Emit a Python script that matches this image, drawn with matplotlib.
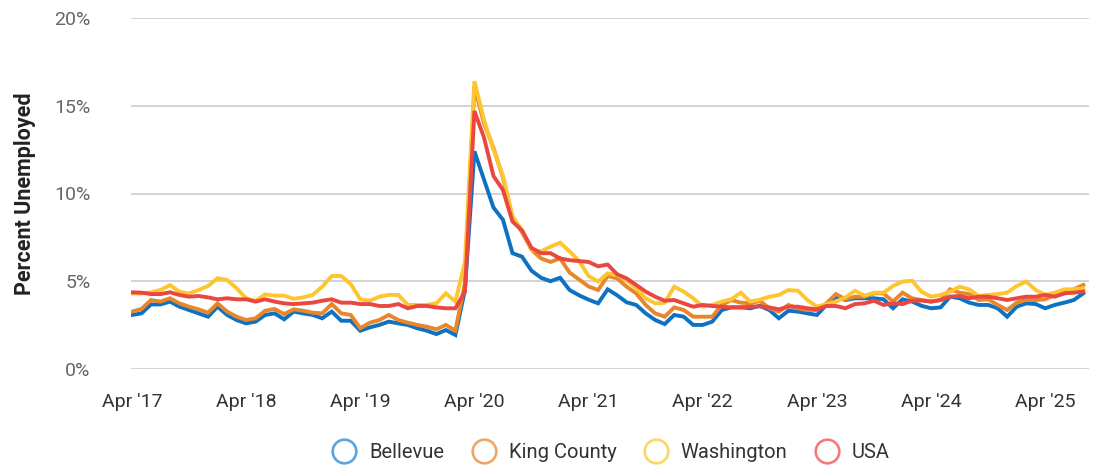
import matplotlib.pyplot as plt
from matplotlib.lines import Line2D

plt.rcParams['font.family'] = ['Roboto', 'DejaVu Sans']

# monthly unemployment rate, Apr 2017 .. Aug 2025
bellevue = [3.08, 3.17, 3.68, 3.68, 3.84, 3.55, 3.36, 3.17, 2.98, 3.55, 3.08, 2.79, 2.6, 2.7, 3.08, 3.17, 2.83,
            3.27, 3.17, 3.08, 2.89, 3.27, 2.75, 2.75, 2.18, 2.37, 2.51, 2.7, 2.6, 2.51, 2.32, 2.18, 1.99, 2.22, 1.94,
            4.5,
            12.4, 10.8, 9.2, 8.5, 6.6, 6.4, 5.6, 5.2, 5.0, 5.2, 4.5, 4.2, 3.95,
            3.74, 4.54, 4.2, 3.8, 3.65, 3.17, 2.79, 2.56, 3.08, 2.98, 2.51, 2.51, 2.7, 3.36, 3.51, 3.51, 3.46,
            3.6, 3.36, 2.89, 3.32, 3.27, 3.17, 3.08, 3.65, 4.12, 3.93, 4.03, 4.03, 4.03, 3.97, 3.46, 3.97, 3.84,
            3.6, 3.46, 3.51, 4.12, 4.03, 3.78, 3.65, 3.65, 3.46, 2.98, 3.55, 3.74, 3.7, 3.46, 3.65, 3.78, 3.93, 4.31]
king_county = [3.27, 3.42, 3.93, 3.84, 4.03, 3.74, 3.55, 3.4, 3.21, 3.74, 3.27, 2.98, 2.79, 2.89, 3.32, 3.42, 3.13,
               3.4, 3.32, 3.21, 3.17, 3.7, 3.17, 3.08, 2.32, 2.64, 2.79, 3.08, 2.79, 2.64, 2.51, 2.41, 2.26, 2.51, 2.18,
               4.9,
               16.1, 14.0, 12.6, 10.9, 8.6, 7.8, 6.8, 6.3, 6.1, 6.3, 5.5, 5.1, 4.7,
               4.5, 5.3, 5.16, 4.69, 4.31, 3.65, 3.17, 2.98, 3.51, 3.36, 2.98, 2.98, 2.98, 3.65, 3.93, 3.78, 3.74,
               3.88, 3.46, 3.27, 3.65, 3.46, 3.36, 3.36, 3.74, 4.27, 3.97, 4.12, 4.12, 4.31, 4.31, 3.84, 4.35, 4.03,
               3.93, 3.84, 3.93, 4.54, 4.35, 4.27, 3.93, 3.97, 3.65, 3.36, 3.78, 3.93, 3.93, 3.97, 4.22, 4.31, 4.54, 4.79]
washington = [4.31, 4.3, 4.37, 4.5, 4.78, 4.4, 4.3, 4.5, 4.73, 5.17, 5.07, 4.6, 4.03, 3.88, 4.25, 4.18, 4.18,
              4.0, 4.08, 4.22, 4.69, 5.3, 5.3, 4.84, 3.97, 3.89, 4.12, 4.22, 4.22, 3.65, 3.65, 3.65, 3.74, 4.31, 3.84,
              6.1,
              16.4, 14.2, 12.5, 11.0, 8.7, 7.9, 6.8, 6.7, 6.97, 7.2, 6.7, 6.16, 5.3,
              4.98, 5.45, 5.35, 5.07, 4.6, 4.03, 3.74, 3.78, 4.69, 4.41, 4.03, 3.55, 3.65, 3.84, 3.97, 4.35, 3.84,
              3.95, 4.12, 4.22, 4.5, 4.46, 3.93, 3.55, 3.7, 3.84, 4.08, 4.46, 4.18, 4.35, 4.35, 4.73, 4.98, 5.03,
              4.4, 4.12, 4.22, 4.41, 4.69, 4.54, 4.16, 4.22, 4.27, 4.35, 4.73, 4.98, 4.5, 4.22, 4.35, 4.54, 4.54, 4.6]
usa = [4.37, 4.35, 4.27, 4.27, 4.37, 4.22, 4.12, 4.16, 4.08, 3.97, 4.03, 3.97, 3.97, 3.84, 3.97, 3.84, 3.74,
       3.7, 3.74, 3.78, 3.89, 3.97, 3.78, 3.78, 3.7, 3.7, 3.59, 3.59, 3.7, 3.46, 3.59, 3.59, 3.51, 3.46, 3.46,
       4.4,
       14.7, 13.2, 11.0, 10.2, 8.4, 7.9, 6.9, 6.6, 6.6, 6.3, 6.2, 6.15, 6.1,
       5.85, 5.95, 5.4, 5.16, 4.79, 4.41, 4.12, 3.89, 3.93, 3.74, 3.55, 3.65, 3.59, 3.55, 3.51, 3.51, 3.55,
       3.57, 3.51, 3.4, 3.55, 3.55, 3.46, 3.4, 3.59, 3.59, 3.46, 3.7, 3.74, 3.89, 3.65, 3.74, 3.7, 3.89,
       3.9, 3.84, 3.93, 4.12, 4.16, 4.03, 4.12, 4.12, 4.03, 3.93, 4.03, 4.12, 4.12, 4.22, 4.12, 4.31, 4.35, 4.41]

series_names = ['Bellevue', 'King County', 'Washington', 'USA']
colors = ['#0f71c2', '#e8862b', '#fdc52f', '#ea4740']
legend_colors = ['#5aa5de', '#eea664', '#fdd665', '#ef7d77']
tick_labels = ["Apr '17", "Apr '18", "Apr '19", "Apr '20", "Apr '21", "Apr '22", "Apr '23", "Apr '24", "Apr '25"]
y_ticks = [0, 5, 10, 15, 20]

fig = plt.figure(figsize=(10.97, 4.70), dpi=100)
ax = fig.add_axes([131 / 1097, 1 - 369 / 470, 958 / 1097, 351 / 470])

months = list(range(len(bellevue)))
for vals, name, c in zip([bellevue, king_county, washington, usa], series_names, colors):
    ax.plot(months, vals, color=c, lw=2.8, solid_joinstyle='miter', label=name)

ax.set_xlim(-0.1, 100.6)
ax.set_ylim(0, 20)
ax.set_yticks(y_ticks)
ax.set_yticklabels([f'{t}%' for t in y_ticks], color='#666666', fontsize=14)
ax.set_xticks(range(0, 97, 12))
ax.set_xticklabels(tick_labels, color='#333333', fontsize=14)
ax.tick_params(length=0)
ax.tick_params(axis='y', pad=29)
ax.tick_params(axis='x', pad=17)
ax.grid(axis='y', color='#cccccc', lw=1.2)
ax.set_axisbelow(True)
for s in ax.spines.values():
    s.set_visible(False)

ax.set_ylabel('Percent Unemployed', fontsize=15.5, fontweight='bold', color='#222222', labelpad=13)

handles = [Line2D([], [], ls='none', marker='o', markersize=17, markerfacecolor='white',
                  markeredgecolor=c, markeredgewidth=1.9) for c in legend_colors]
fig.legend(handles, series_names, loc='center', bbox_to_anchor=(607 / 1097, 1 - 453 / 470), ncol=4,
           frameon=False, fontsize=14.5, handletextpad=0.25, columnspacing=0.95, labelcolor='#333333')

fig.savefig('out.png', dpi=100)
